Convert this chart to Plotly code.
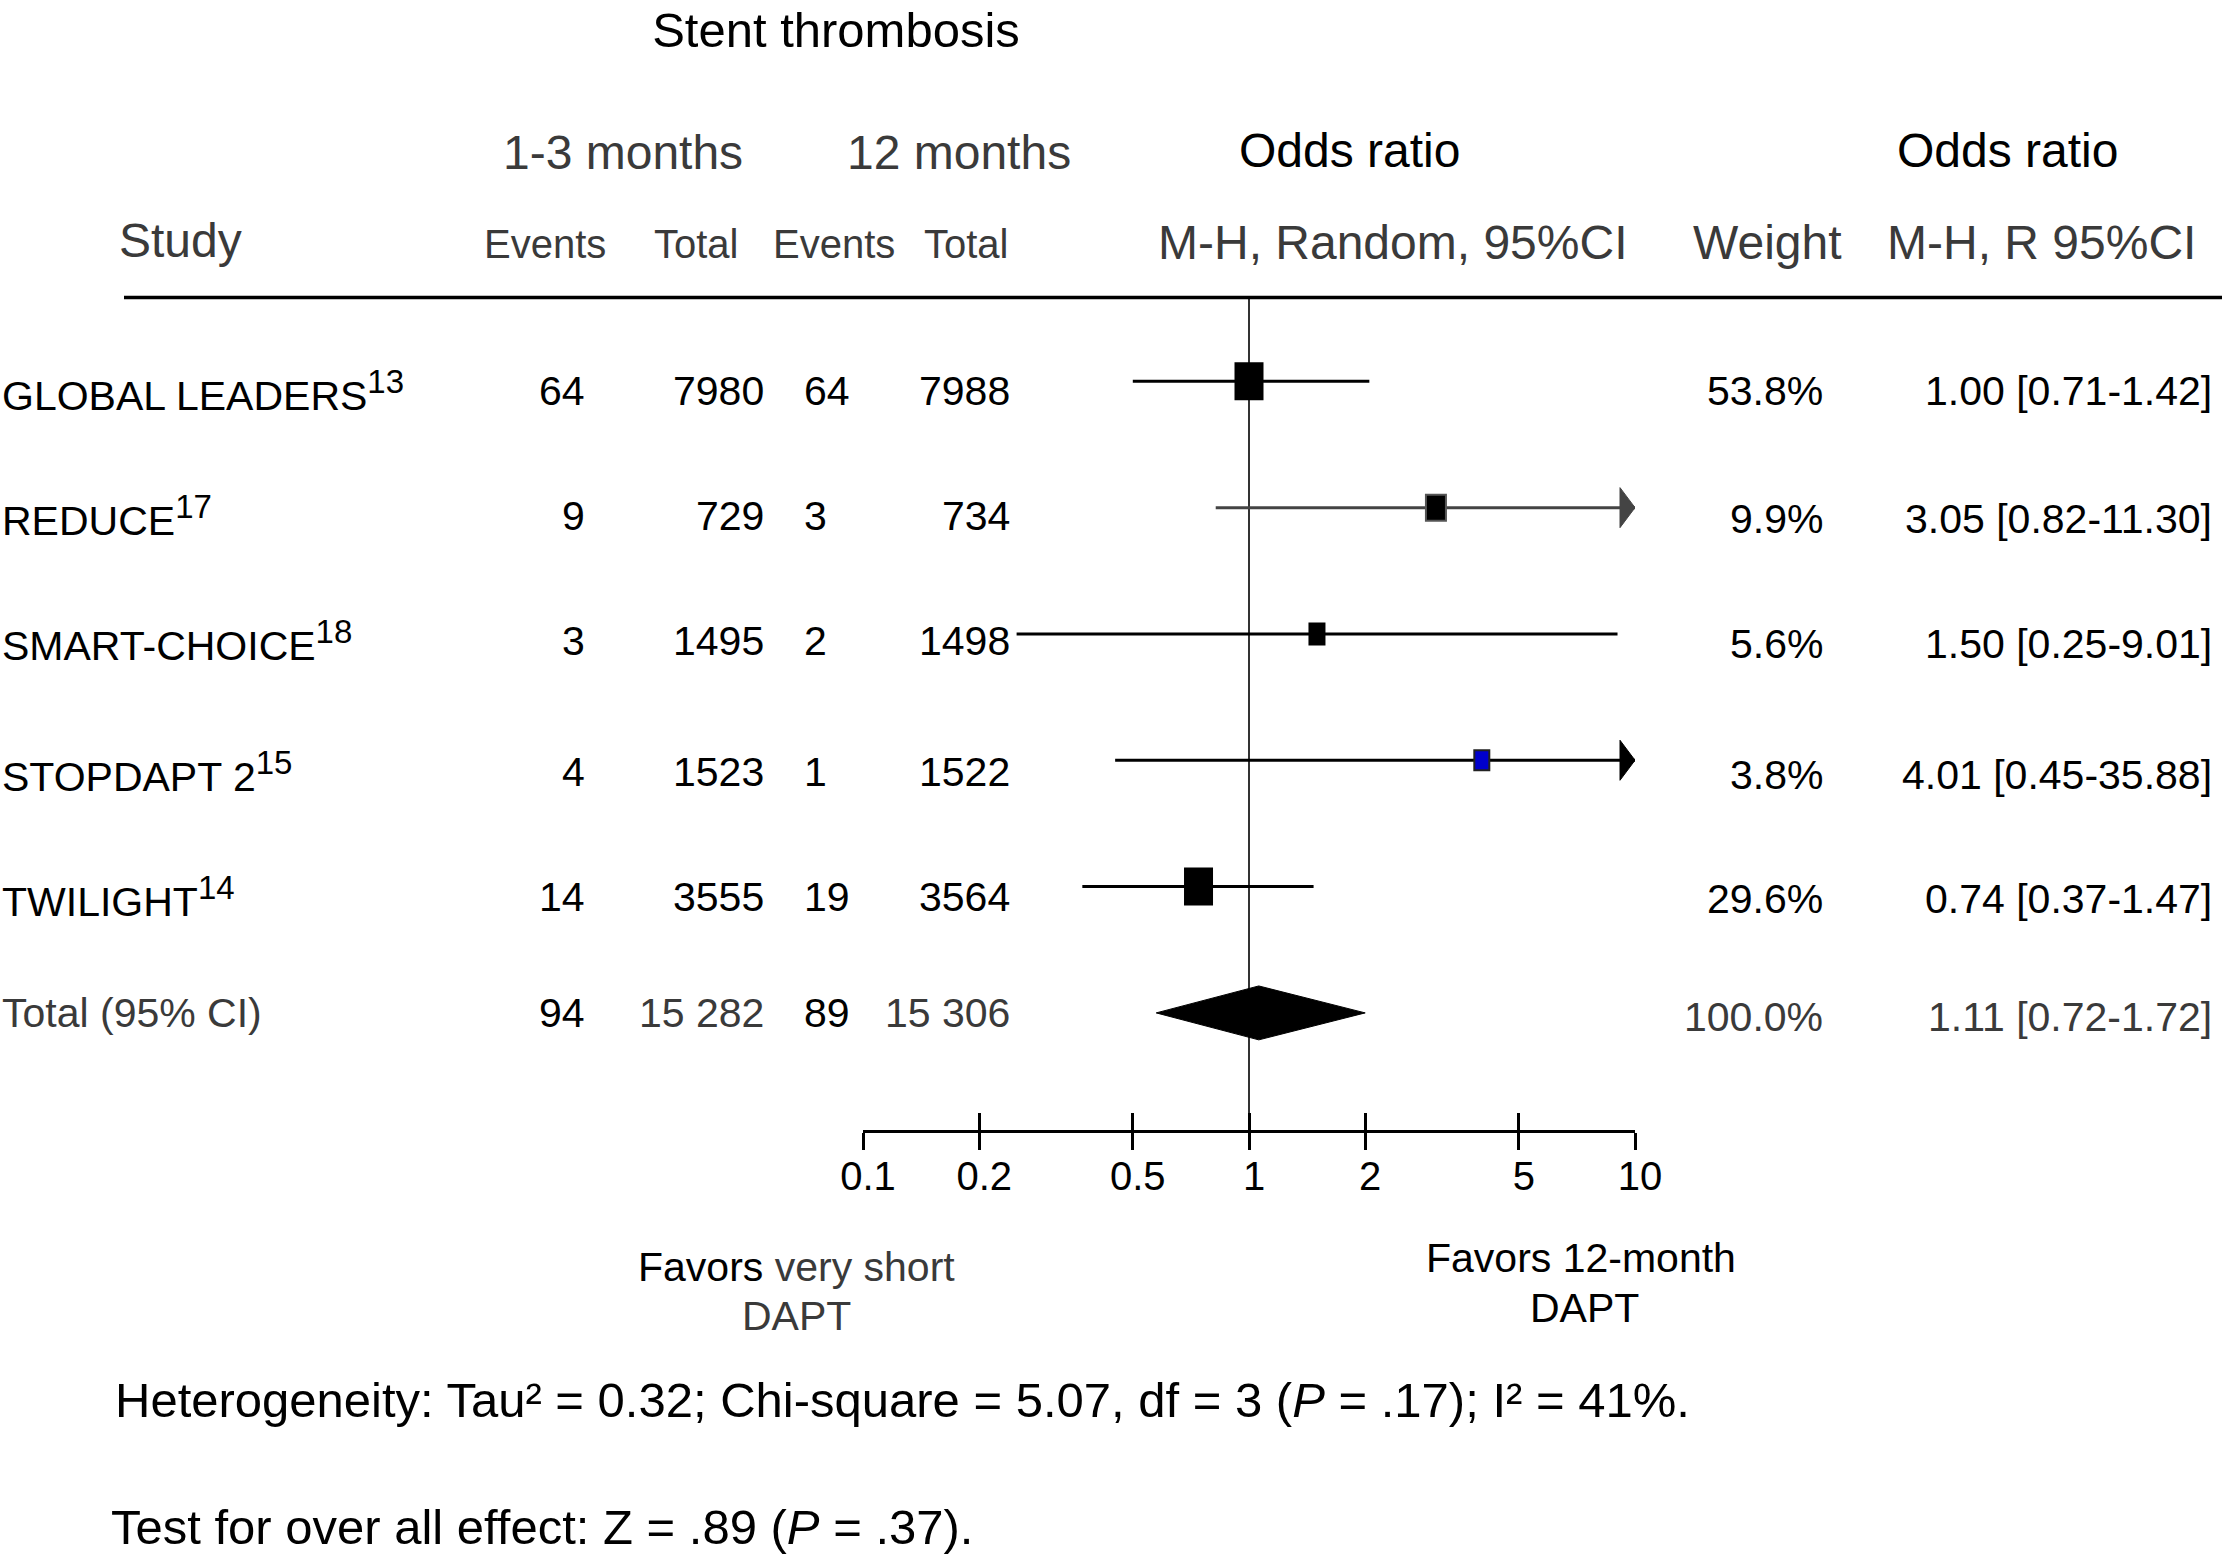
import plotly.graph_objects as go

W, H = 2222, 1555
FONT = "Liberation Sans, Arial, Helvetica, sans-serif"

# ---------------- data ----------------
studies = ["GLOBAL LEADERS", "REDUCE", "SMART-CHOICE", "STOPDAPT 2", "TWILIGHT"]
refs = ["13", "17", "18", "15", "14"]
events_short = ["64", "9", "3", "4", "14"]
total_short = ["7980", "729", "1495", "1523", "3555"]
events_long = ["64", "3", "2", "1", "19"]
total_long = ["7988", "734", "1498", "1522", "3564"]
weights = ["53.8%", "9.9%", "5.6%", "3.8%", "29.6%"]
or_labels = ["1.00 [0.71-1.42]", "3.05 [0.82-11.30]", "1.50 [0.25-9.01]",
             "4.01 [0.45-35.88]", "0.74 [0.37-1.47]"]

# plotted values
or_point = [1.00, 3.05, 1.50, 4.01, 0.74]
ci_low = [0.50, 0.82, 0.25, 0.45, 0.37]
ci_high = [2.05, 11.30, 9.01, 35.88, 1.47]

total_label = "Total (95% CI)"
total_events_short = "94"
total_n_short = "15 282"
total_events_long = "89"
total_n_long = "15 306"
total_weight = "100.0%"
total_or_label = "1.11 [0.72-1.72]"
pooled_point = 1.06
pooled_low = 0.575
pooled_high = 2.0

tick_vals = [0.1, 0.2, 0.5, 1, 2, 5, 10]
tick_text = ["0.1", "0.2", "0.5", "1", "2", "5", "10"]

# ---------------- styles ----------------
box_w = [27, 20, 15, 15, 27]
box_h = [36, 26, 21, 20, 36]
box_fill = ["black", "black", "black", "#0000cc", "black"]
box_edge = ["black", "#555555", "black", "#222222", "black"]
ci_color = ["black", "#444444", "black", "black", "black"]
GRAY = "#3a3a3a"


def px(xp):
    return xp / W


def py(yp):
    return 1 - yp / H


fig = go.Figure()

n = len(studies)
rows = list(range(1, n + 1))
total_row = n + 1
x_max = max(tick_vals)

# CI lines
for i in range(n):
    fig.add_trace(go.Scatter(
        x=[ci_low[i], ci_high[i]], y=[rows[i], rows[i]], mode="lines",
        line=dict(color=ci_color[i], width=3), hoverinfo="skip", showlegend=False))

# pooled diamond
dh = 0.2135
fig.add_trace(go.Scatter(
    x=[pooled_low, pooled_point, pooled_high, pooled_point, pooled_low],
    y=[total_row, total_row - dh, total_row, total_row + dh, total_row],
    mode="lines", fill="toself", fillcolor="black",
    line=dict(color="black", width=1), hoverinfo="skip", showlegend=False))

# invisible trace so the secondary tick axis is drawn
fig.add_trace(go.Scatter(x=[1], y=[1], xaxis="x2", mode="markers",
                         marker=dict(opacity=0), hoverinfo="skip", showlegend=False))

shapes = []
# vertical line of no effect
shapes.append(dict(type="line", xref="x", yref="y domain", x0=1, x1=1, y0=0, y1=1,
                   line=dict(color="#333333", width=2), layer="below"))
# boxes (pixel-sized paths anchored at the data point)
for i in range(n):
    hw, hh = box_w[i] / 2, box_h[i] / 2
    shapes.append(dict(type="path", xref="x", yref="y",
                       xsizemode="pixel", ysizemode="pixel",
                       xanchor=or_point[i], yanchor=rows[i],
                       path=f"M{-hw},{-hh} L{hw},{-hh} L{hw},{hh} L{-hw},{hh} Z",
                       fillcolor=box_fill[i], line=dict(color=box_edge[i], width=2)))
    if ci_high[i] > x_max:
        shapes.append(dict(type="path", xref="x", yref="y",
                           xsizemode="pixel", ysizemode="pixel",
                           xanchor=x_max, yanchor=rows[i],
                           path="M-15,-20 L0,0 L-15,20 Z",
                           fillcolor=ci_color[i], line=dict(color=ci_color[i], width=1)))
# header rule
shapes.append(dict(type="line", xref="paper", yref="paper", x0=px(124), x1=1,
                   y0=py(297.5), y1=py(297.5), line=dict(color="black", width=3.5)))

ann = []


def text(t, x, y, size, color="black", anchor="center"):
    ann.append(dict(text=t, x=px(x), y=py(y), xref="paper", yref="paper",
                    xanchor=anchor, yanchor="middle", showarrow=False,
                    font=dict(family=FONT, size=size, color=color)))


# headers
text("1-3 months", 623, 152, 48, GRAY)
text("12 months", 959, 152, 48, GRAY)
text("Odds ratio", 1349, 151, 48, "black")
text("Odds ratio", 2007, 151, 48, "black")
text("Study", 117, 241, 48, GRAY, "left")
text("Events", 545, 244, 40, GRAY)
text("Total", 696, 244, 40, GRAY)
text("Events", 834, 244, 40, GRAY)
text("Total", 966, 244, 40, GRAY)
text("M-H, Random, 95%CI", 1392, 243, 48, GRAY)
text("Weight", 1767, 243, 48, GRAY)
text("M-H, R 95%CI", 2041, 243, 48, GRAY)

# study rows
left_y = [391, 516, 641, 772, 897, 1013]
right_y = [391, 519, 644, 775, 899, 1017]
for i in range(n):
    label = f"{studies[i]}<sup><span style='font-size:33px'>{refs[i]}</span></sup>"
    text(label, 0, left_y[i], 41, "black", "left")
    text(events_short[i], 587, left_y[i], 41, "black", "right")
    text(total_short[i], 766, left_y[i], 41, "black", "right")
    text(events_long[i], 802, left_y[i], 41, "black", "left")
    text(total_long[i], 1012, left_y[i], 41, "black", "right")
    text(weights[i], 1825, right_y[i], 41, "black", "right")
    text(or_labels[i], 2214, right_y[i], 41, "black", "right")

# total row
text(total_label, 0, left_y[n], 41, GRAY, "left")
text(total_events_short, 587, left_y[n], 41, "black", "right")
text(total_n_short, 766, left_y[n], 41, GRAY, "right")
text(total_events_long, 802, left_y[n], 41, "black", "left")
text(total_n_long, 1012, left_y[n], 41, GRAY, "right")
text(total_weight, 1825, right_y[n], 41, GRAY, "right")
text(total_or_label, 2214, right_y[n], 41, GRAY, "right")

# favours labels
text(f"Favors <span style='color:{GRAY}'>very short</span>", 796, 1267, 41, "black")
text("DAPT", 796, 1316, 41, GRAY)
text("Favors 12-month", 1581, 1258, 41, "black")
text("DAPT", 1584, 1308, 41, "black")

# footer
text("Heterogeneity: Tau² = 0.32; Chi-square = 5.07, df = 3 (<i>P</i> = .17); I² = 41%.",
     113, 1400, 49, "black", "left")
text("Test for over all effect: Z = .89 (<i>P</i> = .37).", 109, 1527, 49, "black", "left")

x_dom = [863 / W, 1635 / W]
y_dom = [py(1130), py(297.5)]

fig.update_layout(
    width=W, height=H, margin=dict(l=0, r=0, t=0, b=0, autoexpand=False),
    paper_bgcolor="white", plot_bgcolor="rgba(0,0,0,0)", showlegend=False,
    font=dict(family=FONT, color="black"),
    title=dict(text="Stent thrombosis", x=836 / W, xanchor="center", xref="paper",
               y=py(30), yanchor="middle", yref="paper",
               font=dict(family=FONT, size=49, color="black")),
    xaxis=dict(type="log", range=[-1, 1], domain=x_dom, anchor="y", automargin=False,
               showline=True, linecolor="black", linewidth=3, mirror=False,
               ticks="outside", ticklen=17, tickwidth=3, tickcolor="black",
               tickvals=tick_vals, ticktext=tick_text,
               ticklabelstandoff=-8, ticklabelshift=5,
               tickfont=dict(family=FONT, size=40, color="black"),
               showgrid=False, zeroline=False, fixedrange=True),
    xaxis2=dict(type="log", range=[-1, 1], domain=x_dom, anchor="y", overlaying="x",
                side="bottom", showline=False, ticks="inside", ticklen=17, tickwidth=3,
                tickcolor="black", tickvals=tick_vals, showticklabels=False,
                automargin=False, showgrid=False, zeroline=False, fixedrange=True),
    yaxis=dict(range=[6.927, 0.3364], domain=y_dom, visible=False, fixedrange=True,
               automargin=False),
    shapes=shapes, annotations=ann,
)

fig.write_html(
    "out.html",
    config={"responsive": False, "displayModeBar": False},
    post_script="document.body.style.margin='0';document.body.style.padding='0';"
                "document.documentElement.style.overflow='hidden';",
)
